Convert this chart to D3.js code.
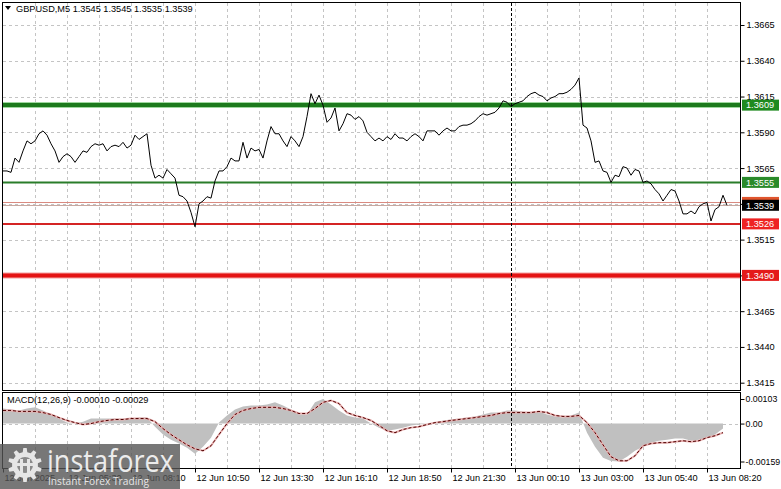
<!DOCTYPE html>
<html>
<head>
<meta charset="utf-8">
<script src="https://cdn.jsdelivr.net/npm/d3@7"></script>
<style>
  body { margin: 0; background: #fff; }
  svg { display: block; }
  text { font-family: "Liberation Sans", Arial, sans-serif; font-size: 9.2px; }
</style>
</head>
<body>
<div id="chart"></div>
<script>
// GBPUSD M5 closes, one value every 2 bars (10 min)
const closes = [
  1.3563,1.3563,1.3562,1.3572,1.3569,1.3577,1.3584,1.3582,1.3584,1.3589,
  1.3591,1.3588,1.3582,1.3577,1.3569,1.3573,1.3575,1.3573,1.3569,1.3573,
  1.3577,1.3576,1.3580,1.3582,1.3581,1.3582,1.3577,1.3580,1.3581,1.3580,
  1.3583,1.3579,1.3581,1.3588,1.3585,1.3587,1.3589,1.3567,1.3558,1.3560,
  1.3558,1.3564,1.3561,1.3558,1.3546,1.3545,1.3542,1.3534,1.3524,1.3540,
  1.3542,1.3545,1.3544,1.3556,1.3563,1.3563,1.3566,1.3572,1.3570,1.3570,
  1.3583,1.3572,1.3579,1.3577,1.3578,1.3572,1.3584,1.3594,1.3589,1.3589,
  1.3584,1.3580,1.3587,1.3584,1.3580,1.3587,1.3601,1.3617,1.3610,1.3616,
  1.3609,1.3597,1.3600,1.3607,1.3591,1.3596,1.3603,1.3602,1.3599,1.3601,
  1.3598,1.3590,1.3587,1.3584,1.3586,1.3584,1.3587,1.3585,1.3589,1.3586,
  1.3586,1.3584,1.3587,1.3589,1.3587,1.3584,1.3591,1.3591,1.3591,1.3588,
  1.3591,1.3593,1.3591,1.3591,1.3594,1.3595,1.3595,1.3596,1.3598,1.3601,
  1.3603,1.3602,1.3603,1.3604,1.3607,1.3612,1.3611,1.3608,1.3610,1.3611,
  1.3612,1.3615,1.3617,1.3618,1.3616,1.3615,1.3612,1.3614,1.3615,1.3617,
  1.3617,1.3618,1.3620,1.3623,1.3628,1.3595,1.3593,1.3584,1.3569,1.3570,
  1.3563,1.3562,1.3555,1.3560,1.3559,1.3566,1.3565,1.3560,1.3564,1.3563,
  1.3555,1.3556,1.3554,1.3550,1.3547,1.3542,1.3546,1.3550,1.3549,1.3542,
  1.3533,1.3533,1.3535,1.3533,1.3538,1.3540,1.3541,1.3528,1.3536,1.3538,
  1.3546,1.3539
];

// MACD(12,26,9), one value every 4 bars (20 min)
const macdHist = [
  0.00063,0.00059,0.00055,0.00063,0.00068,0.00055,0.00038,0.00021,0.00004,0.00000,
  0.00008,0.00021,0.00021,0.00021,0.00021,0.00021,0.00021,0.00025,0.00025,-0.00013,
  -0.00046,-0.00068,-0.00084,-0.00101,-0.00127,-0.00097,-0.00059,0.00004,0.00034,0.00059,
  0.00072,0.00076,0.00076,0.00080,0.00089,0.00076,0.00059,0.00038,0.00038,0.00089,
  0.00103,0.00080,0.00055,0.00034,0.00025,0.00021,0.00000,-0.00017,-0.00030,-0.00025,
  -0.00017,-0.00008,-0.00004,0.00000,0.00004,0.00013,0.00017,0.00021,0.00025,0.00030,
  0.00038,0.00046,0.00046,0.00055,0.00055,0.00051,0.00046,0.00051,0.00038,0.00030,
  0.00025,0.00034,0.00046,-0.00038,-0.00097,-0.00143,-0.00157,-0.00159,-0.00139,-0.00114,
  -0.00097,-0.00080,-0.00072,-0.00068,-0.00063,-0.00063,-0.00072,-0.00068,-0.00059,-0.00046,
  -0.00021
];
const macdSignal = [
  0.00055,0.00055,0.00051,0.00051,0.00051,0.00046,0.00038,0.00025,0.00013,0.00004,
  -0.00004,0.00000,0.00008,0.00013,0.00017,0.00017,0.00021,0.00021,0.00021,0.00008,
  -0.00021,-0.00046,-0.00068,-0.00089,-0.00106,-0.00114,-0.00093,-0.00046,0.00000,0.00038,
  0.00055,0.00063,0.00068,0.00068,0.00068,0.00063,0.00055,0.00042,0.00042,0.00063,
  0.00089,0.00097,0.00084,0.00046,0.00034,0.00025,0.00013,-0.00008,-0.00030,-0.00038,
  -0.00025,-0.00017,-0.00013,-0.00004,0.00004,0.00008,0.00013,0.00017,0.00021,0.00025,
  0.00030,0.00034,0.00042,0.00046,0.00046,0.00046,0.00046,0.00051,0.00046,0.00034,
  0.00030,0.00030,0.00034,0.00004,-0.00038,-0.00089,-0.00139,-0.00156,-0.00156,-0.00135,
  -0.00093,-0.00084,-0.00080,-0.00080,-0.00076,-0.00072,-0.00076,-0.00072,-0.00059,-0.00051,
  -0.00038
];

const priceTicks = [1.3415,1.3440,1.3465,1.3490,1.3515,1.3540,1.3565,1.3590,1.3615,1.3640,1.3665];
const macdTicks = [-0.00159, 0.00, 0.00103];
const timeLabels = ["12 Jun 2025","12 Jun 05:30","12 Jun 08:10","12 Jun 10:50","12 Jun 13:30","12 Jun 16:10",
  "12 Jun 18:50","12 Jun 21:30","13 Jun 00:10","13 Jun 03:00","13 Jun 05:40","13 Jun 08:20"];
const levelPrices = [1.3609, 1.3555, 1.3526, 1.3490];
const bidPrice = 1.3539;
const askPrice = 1.3541;
const ohlc = [1.3545, 1.3545, 1.3535, 1.3539];
const macdNow = [-0.00010, -0.00029];
const markerBar = 254; // dashed vertical marker

const W = 781, H = 489;
const left = 2.5, right = 740.5;
const mainTop = 2.5, mainBottom = 390.5;
const macdTop = 392.5, macdBottom = 468.5;

// plain hyphen for negatives, like the terminal does
const loc = d3.formatLocale({ decimal: ".", thousands: ",", grouping: [3], currency: ["", ""], minus: "-" });
const f4 = loc.format(".4f"), f5 = loc.format(".5f");

const svg = d3.select("#chart").append("svg")
  .attr("width", W).attr("height", H);

// bar index -> x, 2 px per 5-min bar
const x = d3.scaleLinear().domain([0, 368.5]).range([3, 740]);
const y = d3.scaleLinear().domain([1.3415, 1.3665]).range([382.7, 25]);
const ym = d3.scaleLinear().domain([-0.00159, 0.00103]).range([461.5, 399]);

const defs = svg.append("defs");
defs.append("clipPath").attr("id", "clipMain").append("rect")
  .attr("x", left).attr("y", mainTop).attr("width", right - left).attr("height", mainBottom - mainTop);
defs.append("clipPath").attr("id", "clipMacd").append("rect")
  .attr("x", left).attr("y", macdTop).attr("width", right - left).attr("height", macdBottom - macdTop);

// grid
const gridColor = "#c4c4c4";
const gridBars = d3.range(16, 368, 16);
const grid = svg.append("g").attr("stroke", gridColor).attr("stroke-dasharray", "3,3").attr("shape-rendering", "crispEdges");
grid.selectAll("line.v1").data(gridBars).join("line")
  .attr("x1", d => Math.round(x(d)) + 0.5).attr("x2", d => Math.round(x(d)) + 0.5)
  .attr("y1", mainTop).attr("y2", mainBottom);
grid.selectAll("line.v2").data(gridBars).join("line")
  .attr("x1", d => Math.round(x(d)) + 0.5).attr("x2", d => Math.round(x(d)) + 0.5)
  .attr("y1", macdTop).attr("y2", macdBottom);
grid.selectAll("line.h").data(priceTicks).join("line")
  .attr("x1", left).attr("x2", right)
  .attr("y1", d => Math.round(y(d)) + 0.5).attr("y2", d => Math.round(y(d)) + 0.5);
grid.append("line")
  .attr("x1", left).attr("x2", right)
  .attr("y1", Math.round(ym(0)) + 0.5).attr("y2", Math.round(ym(0)) + 0.5);

// level lines
const levelStyle = [
  { color: "#1c7a1c", width: 4, halo: "#9fd89f" },
  { color: "#2a7d2a", width: 2, halo: null },
  { color: "#d42424", width: 2, halo: null },
  { color: "#e41414", width: 4, halo: "#f4a0a0" }
];
const levels = svg.append("g").attr("clip-path", "url(#clipMain)");
levelPrices.forEach((p, i) => {
  const s = levelStyle[i];
  if (s.halo) {
    levels.append("line").attr("x1", left).attr("x2", right)
      .attr("y1", y(p)).attr("y2", y(p))
      .attr("stroke", s.halo).attr("stroke-width", s.width + 2);
  }
  levels.append("line").attr("x1", left).attr("x2", right)
    .attr("y1", y(p)).attr("y2", y(p))
    .attr("stroke", s.color).attr("stroke-width", s.width);
});
// bid / ask lines
levels.append("line").attr("x1", left).attr("x2", right)
  .attr("y1", Math.round(y(askPrice)) + 0.5).attr("y2", Math.round(y(askPrice)) + 0.5)
  .attr("stroke", "#d98a80").attr("stroke-width", 1);
levels.append("line").attr("x1", left).attr("x2", right)
  .attr("y1", Math.round(y(bidPrice)) + 0.5).attr("y2", Math.round(y(bidPrice)) + 0.5)
  .attr("stroke", "#c8a8a0").attr("stroke-width", 1);

// price line
const priceLine = d3.line()
  .x((d, i) => x(i * 2))
  .y(d => y(d));
svg.append("path")
  .datum(closes)
  .attr("clip-path", "url(#clipMain)")
  .attr("fill", "none")
  .attr("stroke", "#000")
  .attr("stroke-width", 1)
  .attr("stroke-linejoin", "round")
  .attr("d", priceLine);

// MACD histogram + signal
const histArea = d3.area()
  .x((d, i) => x(i * 4))
  .y0(ym(0))
  .y1(d => ym(d));
svg.append("path")
  .datum(macdHist)
  .attr("clip-path", "url(#clipMacd)")
  .attr("fill", "#c0c0c0")
  .attr("d", histArea);

const signalLine = d3.line()
  .x((d, i) => x(i * 4))
  .y(d => ym(d));
svg.append("path")
  .datum(macdSignal)
  .attr("clip-path", "url(#clipMacd)")
  .attr("fill", "none")
  .attr("stroke", "#e8b0b0")
  .attr("stroke-width", 2)
  .attr("d", signalLine);
svg.append("path")
  .datum(macdSignal)
  .attr("clip-path", "url(#clipMacd)")
  .attr("fill", "none")
  .attr("stroke", "#500000")
  .attr("stroke-width", 1)
  .attr("stroke-dasharray", "3,2")
  .attr("d", signalLine);

// vertical dashed marker
svg.append("line")
  .attr("x1", Math.round(x(markerBar)) + 0.5).attr("x2", Math.round(x(markerBar)) + 0.5)
  .attr("y1", mainTop).attr("y2", macdBottom)
  .attr("stroke", "#000").attr("stroke-dasharray", "3,2").attr("shape-rendering", "crispEdges");

// frames
const frame = svg.append("g").attr("fill", "none").attr("stroke", "#000").attr("shape-rendering", "crispEdges");
frame.append("rect").attr("x", left).attr("y", mainTop).attr("width", right - left).attr("height", mainBottom - mainTop);
frame.append("rect").attr("x", left).attr("y", macdTop).attr("width", right - left).attr("height", macdBottom - macdTop);

// right price axis
const yAxis = d3.axisRight(y).tickValues(priceTicks).tickFormat(f4).tickSize(4).tickPadding(2);
const gy = svg.append("g").attr("transform", `translate(${right},0)`).call(yAxis);
gy.select(".domain").remove();
gy.selectAll("text").attr("fill", "#000").style("font-size", "9.2px").style("font-family", "Liberation Sans, Arial, sans-serif");
gy.selectAll("line").attr("stroke", "#000");

// right MACD axis
const ymAxis = d3.axisRight(ym).tickValues(macdTicks)
  .tickFormat(d => d === 0 ? "0.00" : f5(d)).tickSize(4).tickPadding(1);
const gm = svg.append("g").attr("transform", `translate(${right},0)`).call(ymAxis);
gm.select(".domain").remove();
gm.selectAll("text").attr("fill", "#000").style("font-size", "8.8px").style("font-family", "Liberation Sans, Arial, sans-serif");
gm.selectAll("line").attr("stroke", "#000");

// price labels on the axis
const labelColor = ["#1f8a1f", "#2a8a2a", "#ee2222", "#e41a1a"];
function priceTag(p, bg) {
  const g = svg.append("g").attr("transform", `translate(742,${y(p)})`);
  g.append("rect").attr("x", 0).attr("y", -5.5).attr("width", 37).attr("height", 11).attr("fill", bg);
  g.append("text").attr("x", 4).attr("y", 3.3).attr("fill", "#fff").text(f4(p));
}
priceTag(askPrice, "#e0552e");
priceTag(bidPrice, "#000");
levelPrices.forEach((p, i) => priceTag(p, labelColor[i]));

// bottom time axis
const labelBars = timeLabels.map((d, i) => i * 32);
const xAxis = d3.axisBottom(x).tickValues(labelBars).tickFormat((d, i) => timeLabels[i]).tickSize(4).tickPadding(2);
const gx = svg.append("g").attr("transform", `translate(0,${macdBottom})`).call(xAxis);
gx.select(".domain").remove();
gx.selectAll("line").attr("stroke", "#000");
gx.selectAll("text").attr("text-anchor", "start").attr("dx", 1).attr("fill", "#000")
  .style("font-size", "9.2px").style("font-family", "Liberation Sans, Arial, sans-serif");

// headers
svg.append("path").attr("d", "M5,6 L11,6 L8,10 Z").attr("fill", "#000");
svg.append("text").attr("x", 16).attr("y", 12).attr("fill", "#000")
  .text("GBPUSD,M5  " + ohlc.map(f4).join(" "));
svg.append("text").attr("x", 7).attr("y", 403).attr("fill", "#000")
  .text("MACD(12,26,9) " + macdNow.map(f5).join(" "));

// watermark
const wm = svg.append("g");
wm.append("rect").attr("x", 0).attr("y", 444).attr("width", 180).attr("height", 45)
  .attr("fill", "#555").attr("opacity", 0.8);
function gearPath(rOut, rIn, teeth) {
  const step = Math.PI * 2 / teeth;
  const pts = [];
  for (let t = 0; t < teeth; t++) {
    const a = t * step;
    pts.push([a - step * 0.28, rIn], [a - step * 0.16, rOut], [a + step * 0.16, rOut], [a + step * 0.28, rIn]);
  }
  return d3.lineRadial().angle(d => d[0]).radius(d => d[1]).curve(d3.curveLinearClosed)(pts);
}
const gear = wm.append("g").attr("transform", "translate(25,465)");
gear.append("path").attr("d", gearPath(17, 13, 10)).attr("fill", "#e6e6e6");
gear.append("circle").attr("r", 8).attr("fill", "#8a8a8a");
gear.append("path").attr("d", "M-5,-6 L-2,-6 L-2,9 L-5,9 Z M2,-6 L5,-6 L5,9 L2,9 Z M-8,-2 L8,-2 L8,1 L-8,1 Z").attr("fill", "#e6e6e6");
wm.append("text").attr("x", 47).attr("y", 472)
  .attr("textLength", 127).attr("lengthAdjust", "spacingAndGlyphs")
  .style("font-family", "Open Sans, Liberation Sans, sans-serif").style("font-size", "31px")
  .attr("fill", "#ececec").text("instaforex");
wm.append("text").attr("x", 48).attr("y", 485)
  .attr("textLength", 101).attr("lengthAdjust", "spacingAndGlyphs")
  .style("font-family", "Open Sans, Liberation Sans, sans-serif").style("font-size", "11.5px")
  .attr("fill", "#e6e6e6").text("Instant Forex Trading");
</script>
</body>
</html>
